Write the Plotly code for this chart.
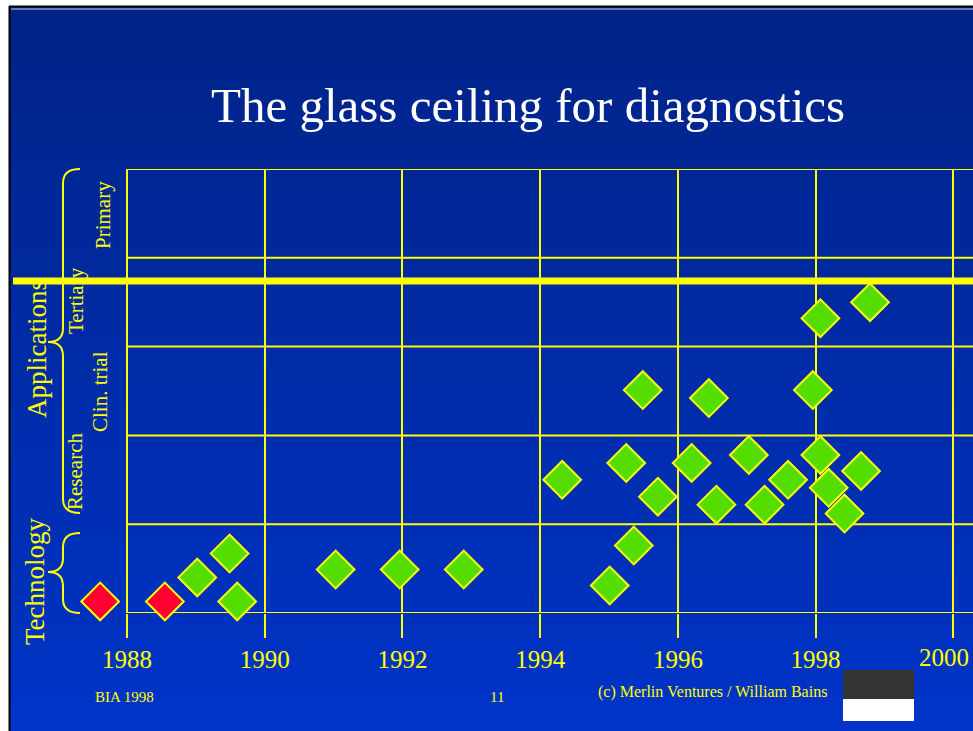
import plotly.graph_objects as go

# ---- data ----
years_tick = [1988, 1990, 1992, 1994, 1996, 1998, 2000]
tick_labels = ["1988", "1990", "1992", "1994", "1996", "1998", "2000"]
levels = [0, 1, 2, 3, 4, 5]
level_names = ["Research", "Clin. trial", "Tertiary", "Primary"]

red_x = [1987.61, 1988.55]
red_y = [0.13, 0.13]

green_x = [1989.02, 1989.49, 1989.60, 1991.03, 1991.96, 1992.89,
           1995.01, 1995.36, 1994.32, 1995.25, 1995.71, 1996.20,
           1996.56, 1997.03, 1997.26, 1997.60, 1998.07, 1998.19,
           1998.42, 1998.66, 1995.49, 1996.45, 1997.96, 1998.07, 1998.79]
green_y = [0.40, 0.67, 0.13, 0.49, 0.49, 0.49,
           0.31, 0.76, 1.50, 1.69, 1.31, 1.69,
           1.22, 1.78, 1.22, 1.50, 1.78, 1.41,
           1.12, 1.60, 2.51, 2.42, 2.51, 3.32, 3.50]

ceiling_level = 3.74
x_start = 1988
x_lo = 1987.0

W, H = 973, 731
PPY = 68.86  # pixels per year
X0_PX = 127  # pixel of 1988
def px(x):
    return x / W
def py(y):
    return 1 - y / H

YELLOW = "#ffff00"
SERIF = "Liberation Serif, Times New Roman, serif"
x_hi = x_start + (W - X0_PX) / PPY

fig = go.Figure()
fig.add_trace(go.Scatter(
    x=green_x, y=green_y, mode="markers", cliponaxis=False,
    marker=dict(symbol="diamond", size=29, color="#55dd00",
                line=dict(color=YELLOW, width=2)),
    hoverinfo="x+y", showlegend=False))
fig.add_trace(go.Scatter(
    x=red_x, y=red_y, mode="markers", cliponaxis=False,
    marker=dict(symbol="diamond", size=29, color="#ff0033",
                line=dict(color=YELLOW, width=2)),
    hoverinfo="x+y", showlegend=False))

shapes = []
# gradient background (each strip runs to the bottom so no seams)
top = (0, 35, 135)
bot = (0, 52, 200)
N = 60
y_top, y_bot = 7, 731
for i in range(N):
    t = i / (N - 1)
    c = tuple(round(top[k] + (bot[k] - top[k]) * t) for k in range(3))
    ya = y_top + (y_bot - y_top) * i / N
    shapes.append(dict(type="rect", xref="paper", yref="paper",
                       x0=px(10), x1=1, y0=py(ya), y1=0,
                       fillcolor="rgb(%d,%d,%d)" % c, line=dict(width=0),
                       layer="below"))
# slide border
shapes.append(dict(type="line", xref="paper", yref="paper",
                   x0=px(9.5), x1=px(9.5), y0=0, y1=py(6),
                   line=dict(color="black", width=2), layer="below"))
shapes.append(dict(type="line", xref="paper", yref="paper",
                   x0=px(9), x1=1, y0=py(6.5), y1=py(6.5),
                   line=dict(color="black", width=2), layer="below"))
shapes.append(dict(type="line", xref="paper", yref="paper",
                   x0=px(11), x1=1, y0=py(9), y1=py(9),
                   line=dict(color="#c8d0e8", width=1), layer="below"))

# horizontal grid lines (start at 1988)
for lv in levels:
    shapes.append(dict(type="line", xref="x", yref="y",
                       x0=x_start, x1=x_hi, y0=lv, y1=lv,
                       line=dict(color=YELLOW, width=2), layer="below"))

# glass ceiling
shapes.append(dict(type="line", xref="paper", yref="y",
                   x0=px(13), x1=1, y0=ceiling_level, y1=ceiling_level,
                   line=dict(color=YELLOW, width=7), layer="above"))

# braces
def brace(x_end, x_mid, x_cusp, y0, y1, yc):
    r = 14
    p = (f"M {px(x_end)},{py(y0)} "
         f"Q {px(x_mid)},{py(y0)} {px(x_mid)},{py(y0 + r)} "
         f"L {px(x_mid)},{py(yc - r)} "
         f"Q {px(x_mid)},{py(yc)} {px(x_cusp)},{py(yc)} "
         f"Q {px(x_mid)},{py(yc)} {px(x_mid)},{py(yc + r)} "
         f"L {px(x_mid)},{py(y1 - r)} "
         f"Q {px(x_mid)},{py(y1)} {px(x_end)},{py(y1)}")
    return dict(type="path", xref="paper", yref="paper", path=p,
                line=dict(color=YELLOW, width=2), layer="above")

shapes.append(brace(80, 63, 48, 169, 513, 342))
shapes.append(brace(80, 63, 48, 533, 613, 572))

# thumbnail image stand-in
shapes.append(dict(type="rect", xref="paper", yref="paper",
                   x0=px(843), x1=px(914), y0=py(670), y1=py(699),
                   fillcolor="#333333", line=dict(width=0)))
shapes.append(dict(type="rect", xref="paper", yref="paper",
                   x0=px(843), x1=px(914), y0=py(699), y1=py(721),
                   fillcolor="white", line=dict(width=0)))

annotations = []
def ann(text, x, y, size, color=YELLOW, angle=0):
    annotations.append(dict(text=text, xref="paper", yref="paper",
                            x=px(x), y=py(y), showarrow=False,
                            xanchor="center", yanchor="middle",
                            textangle=angle,
                            font=dict(family=SERIF, size=size, color=color)))

ann("The glass ceiling for diagnostics", 528, 106, 49, color="white")
ann("Applications", 37, 349, 27, angle=-90)
ann("Technology", 35, 581, 27, angle=-90)
ann(level_names[3], 103, 215, 21, angle=-90)
ann(level_names[2], 76, 301, 21, angle=-90)
ann(level_names[1], 100, 392, 21, angle=-90)
ann(level_names[0], 75, 472, 21, angle=-90)
ann("BIA 1998", 124, 697, 15)
ann("11", 497, 697, 15)
ann("(c) Merlin Ventures / William Bains", 712, 692, 16)
# last tick label is nudged left to stay inside the slide, as in the original
ann(tick_labels[-1], 944, 657, 25)

axis_text = tick_labels[:-1] + [""]

fig.update_layout(
    width=W, height=H,
    margin=dict(l=0, r=0, t=0, b=0),
    paper_bgcolor="white",
    plot_bgcolor="rgba(0,0,0,0)",
    shapes=shapes,
    annotations=annotations,
    showlegend=False,
    xaxis=dict(domain=[px(X0_PX - (x_start - x_lo) * PPY), 1],
               range=[x_lo, x_hi],
               tickvals=years_tick, ticktext=axis_text,
               showgrid=True, gridcolor=YELLOW, gridwidth=2,
               ticks="outside", ticklen=24, tickwidth=2, tickcolor=YELLOW,
               tickfont=dict(family=SERIF, size=25, color=YELLOW),
               ticklabeloverflow="allow",
               zeroline=False, showline=False, automargin=False,
               fixedrange=True),
    yaxis=dict(domain=[1 - 613 / H, 1 - 169 / H],
               range=[0, 5], tickvals=levels, showticklabels=False,
               showgrid=False,
               zeroline=False, showline=False, automargin=False,
               fixedrange=True),
)

fig.write_html("out.html", config={"displayModeBar": False})
